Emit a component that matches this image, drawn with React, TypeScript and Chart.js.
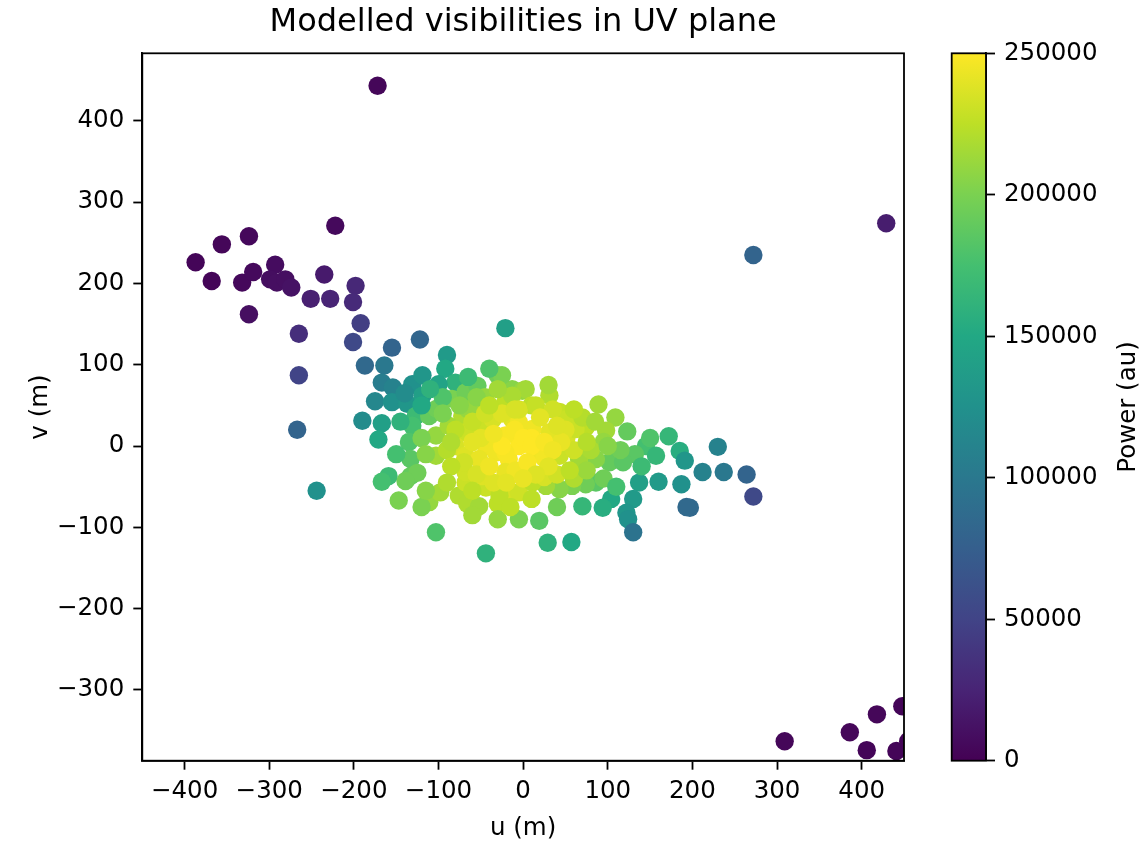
import React, { useEffect, useRef } from "react";
import { Chart, registerables } from "chart.js";

Chart.register(...registerables);

// Baseline coordinates (metres) and modelled power of each visibility
const uValues: number[] = [
  -172, -222, -324, -356, -387, -368, -332, -319, -293, -299,
  -291, -281, -274, -324, -251, -228, -235, -198, -201, -192,
  -265, -201, -265, -155, -122, -21, -267, -187, -164, 429,
  272, 264, 272, 309, 386, 418, 406, 448, 441, 455,
  -90, -167, -154, -175, -190, -167, -171, -244, -155, -137,
  -131, -119, -92, -80, -100, -119, -127, -131, -135, -133,
  -133, -125, -159, -167, -139, -147, -111, -98, -103, -44,
  -76, -66, -52, -44, -30, -30, -5, -13, -68, -103,
  -103, -111, -102, -84, -68, -54, -30, -13, -1, -52,
  -72, -88, -68, -52, -36, -21, -13, -44, -32, -80,
  -68, -52, -17, -5, -68, -48, -21, -5, -25, 3,
  31, -13, 10, 43, 51, 89, 109, 74, 98, 123,
  172, 145, 132, 157, 185, 191, 230, 212, 237, 197,
  193, 187, 160, 137, 130, 122, 124, 130, 104, 94,
  70, 57, 29, 19, 86, 74, 58, 43, 27, 11,
  -9, 102, 118, 86, 66, 43, 19, 51, 31, 11,
  -5, 62, -21, -21, -28, -95, -110, -140, -45, -65,
  -95, -80, -60, -45, -25, -5, 15, 35, 50, 70,
  85, 95, 80, 60, 45, 25, 10, -10, -25, -50,
  -70, -90, -85, -55, -35, -20, 5, 25, 40, 60,
  75, 95, 110, 115, 140, 150, -30, -55, -75, -120,
  -145, -150, -120, -60, 40, -15, 10, 30, -40, -65,
  0, 10, 25, 35, -10, 20, 5, 30, -35, -60,
  -40, 15, 55, 40, -85, -90, -115, 75, 60, -60,
  -40, -120, -115, 0, 100,
];

const vValues: number[] = [
  443, 271, 258, 248, 226, 203, 201, 214, 223, 205,
  201, 205, 195, 162, 181, 181, 211, 197, 177, 151,
  138, 128, 87, 121, 131, 145, 20, 99, 99, 274,
  235, -35, -62, -363, -352, -330, -374, -320, -375, -363,
  112, 78, 72, 55, 31, 28, 8, -55, 54, 52,
  76, 87, 95, 78, 76, 62, 37, 25, 5, -16,
  -37, -33, -37, -44, -43, -67, -69, -57, -106, -132,
  -61, -71, -74, -51, -71, -90, -90, -57, -45, -12,
  13, 37, 46, 58, 66, 74, 87, 70, 68, 50,
  37, 25, 17, 25, 33, 54, 33, 0, -8, 0,
  -12, -16, -16, 0, -32, -37, -32, -57, 87, 70,
  62, 62, 50, 42, 33, 51, 35, 23, 19, 18,
  12, 0, -10, -12, -6, -18, -1, -32, -32, -76,
  -75, -47, -44, -45, -65, -82, -90, -106, -65, -76,
  -74, -118, -119, -92, -45, -47, -49, -53, -49, -45,
  -30, -20, -20, -16, -16, -12, -8, 9, 17, 21,
  29, 21, 13, -8, -61, 60, 70, 65, 60, 45,
  40, 20, 30, 40, 40, 45, 50, 45, 20, 35,
  30, 5, -5, -5, 5, -15, 10, 20, 0, 10,
  -20, -5, 5, -35, -45, -45, -30, -38, -35, -40,
  -30, -40, -50, -5, -25, 10, 70, 60, 50, 50,
  30, -10, -75, -85, -75, -75, -65, 75, 95, 85,
  10, 0, 5, -5, 45, 35, -20, -25, 15, 5,
  50, -35, -30, 25, -25, -45, -55, 5, 45, -55,
  -25, 10, -10, -40, 0,
];

const powerValues: number[] = [
  4000, 6000, 5000, 4000, 3000, 3000, 5000, 6000, 8000, 9000,
  10000, 10000, 12000, 10000, 22000, 25000, 18000, 28000, 30000, 45000,
  33000, 55000, 50000, 80000, 82000, 140000, 80000, 85000, 100000, 20000,
  80000, 80000, 55000, 4000, 4000, 4000, 3000, 3000, 3000, 3000,
  135000, 105000, 110000, 115000, 120000, 140000, 150000, 125000, 125000, 130000,
  125000, 130000, 150000, 160000, 145000, 140000, 170000, 175000, 180000, 185000,
  190000, 195000, 170000, 175000, 195000, 200000, 210000, 215000, 180000, 160000,
  220000, 220000, 215000, 230000, 225000, 210000, 200000, 235000, 230000, 215000,
  210000, 190000, 195000, 200000, 195000, 190000, 195000, 205000, 210000, 215000,
  220000, 215000, 230000, 230000, 235000, 225000, 240000, 245000, 245000, 235000,
  238000, 242000, 248000, 250000, 232000, 238000, 242000, 232000, 200000, 215000,
  220000, 218000, 225000, 228000, 230000, 215000, 210000, 225000, 215000, 190000,
  165000, 175000, 185000, 165000, 155000, 130000, 110000, 110000, 100000, 85000,
  85000, 125000, 135000, 140000, 135000, 130000, 125000, 95000, 150000, 155000,
  165000, 150000, 160000, 185000, 185000, 195000, 200000, 205000, 215000, 225000,
  245000, 190000, 185000, 205000, 215000, 230000, 245000, 235000, 240000, 245000,
  245000, 230000, 248000, 248000, 225000, 180000, 160000, 120000, 210000, 210000,
  200000, 225000, 228000, 232000, 238000, 235000, 228000, 232000, 238000, 222000,
  215000, 210000, 218000, 232000, 242000, 246000, 250000, 248000, 250000, 240000,
  232000, 222000, 220000, 235000, 238000, 240000, 245000, 235000, 232000, 220000,
  212000, 195000, 175000, 195000, 170000, 180000, 215000, 205000, 205000, 150000,
  160000, 175000, 200000, 215000, 195000, 225000, 225000, 215000, 180000, 170000,
  250000, 250000, 248000, 245000, 235000, 240000, 248000, 240000, 245000, 240000,
  225000, 238000, 225000, 238000, 225000, 220000, 205000, 222000, 225000, 225000,
  245000, 200000, 205000, 242000, 205000,
];

const xTicks: number[] = [-400, -300, -200, -100, 0, 100, 200, 300, 400];
const yTicks: number[] = [-300, -200, -100, 0, 100, 200, 300, 400];
const powerTicks: number[] = [0, 50000, 100000, 150000, 200000, 250000];

const X_MIN = -450;
const X_MAX = 450;
const Y_MIN = -387;
const Y_MAX = 483;
const POWER_MAX = 250000;

// viridis colour map stops
const VIRIDIS: string[] = [
  "#440154", "#482475", "#414487", "#355f8d", "#2a788e", "#21918c",
  "#22a884", "#44bf70", "#7ad151", "#bddf26", "#fde725",
];

function hexToRgb(h: string): number[] {
  return [parseInt(h.slice(1, 3), 16), parseInt(h.slice(3, 5), 16), parseInt(h.slice(5, 7), 16)];
}

function viridis(t: number): string {
  const c = Math.min(1, Math.max(0, t));
  const pos = c * (VIRIDIS.length - 1);
  const i = Math.min(VIRIDIS.length - 2, Math.floor(pos));
  const f = pos - i;
  const a = hexToRgb(VIRIDIS[i]);
  const b = hexToRgb(VIRIDIS[i + 1]);
  const rgb = a.map((av, k) => Math.round(av + (b[k] - av) * f));
  return `rgb(${rgb[0]}, ${rgb[1]}, ${rgb[2]})`;
}

const FONT = "'DejaVu Sans', sans-serif";
const TICK_FONT = { family: FONT, size: 24.5 };
const AXIS_LW = 1.8;

const minusFmt = (v: number | string) => {
  const n = Number(v);
  return n < 0 ? "\u2212" + Math.abs(n) : String(n);
};

const framePlugin = {
  id: "frame",
  afterDraw(chart: any) {
    const { ctx, chartArea } = chart;
    ctx.save();
    ctx.strokeStyle = "#000";
    ctx.lineWidth = AXIS_LW;
    ctx.strokeRect(chartArea.left, chartArea.top, chartArea.right - chartArea.left, chartArea.bottom - chartArea.top);
    ctx.restore();
  },
};

const colorbarLabelPlugin = {
  id: "colorbarLabel",
  afterDraw(chart: any) {
    const { ctx, chartArea } = chart;
    ctx.save();
    ctx.translate(1129, (chartArea.top + chartArea.bottom) / 2);
    ctx.rotate(-Math.PI / 2);
    ctx.font = `24.5px ${FONT}`;
    ctx.fillStyle = "#000";
    ctx.textAlign = "center";
    ctx.textBaseline = "middle";
    ctx.fillText("Power (au)", 0, 0);
    ctx.restore();
  },
};

const axisGrid = {
  display: true,
  drawOnChartArea: false,
  drawTicks: true,
  tickLength: 9,
  color: "#000",
  tickWidth: AXIS_LW,
};

export default function App() {
  const mainRef = useRef<HTMLCanvasElement | null>(null);
  const barRef = useRef<HTMLCanvasElement | null>(null);

  useEffect(() => {
    Chart.defaults.font.family = FONT;
    Chart.defaults.color = "#000";

    const points = uValues.map((u, i) => ({ x: u, y: vValues[i] }));
    const colors = powerValues.map((p) => viridis(p / POWER_MAX));

    const main = new Chart(mainRef.current as HTMLCanvasElement, {
      type: "scatter",
      data: {
        datasets: [
          {
            data: points,
            backgroundColor: colors,
            pointBackgroundColor: colors,
            pointBorderWidth: 0,
            borderWidth: 0,
            pointRadius: 9.2,
            pointHoverRadius: 9.2,
            clip: 0,
          } as any,
        ],
      },
      options: {
        responsive: false,
        animation: false,
        devicePixelRatio: 1,
        events: [],
        layout: { padding: { left: 26, right: 239, top: 0, bottom: 0 } },
        plugins: {
          legend: { display: false },
          tooltip: { enabled: false },
          title: {
            display: true,
            fullSize: false,
            text: "Modelled visibilities in UV plane",
            color: "#000",
            font: { family: FONT, size: 32, weight: "normal" },
            padding: { top: 3, bottom: 11.9 },
          },
        },
        scales: {
          x: {
            type: "linear",
            min: X_MIN,
            max: X_MAX,
            afterBuildTicks: (s: any) => {
              s.ticks = xTicks.map((value) => ({ value }));
            },
            afterFit: (s: any) => {
              s.height = 84.3;
            },
            grid: axisGrid,
            border: { display: true, color: "#000", width: AXIS_LW },
            ticks: { font: TICK_FONT, color: "#000", padding: 7, maxRotation: 0, callback: minusFmt },
            title: {
              display: true,
              text: "u (m)",
              color: "#000",
              font: TICK_FONT,
              padding: { top: 0, bottom: 1.3 },
            },
          },
          y: {
            type: "linear",
            min: Y_MIN,
            max: Y_MAX,
            afterBuildTicks: (s: any) => {
              s.ticks = yTicks.map((value) => ({ value }));
            },
            afterFit: (s: any) => {
              s.width = 116.3;
            },
            grid: axisGrid,
            border: { display: true, color: "#000", width: AXIS_LW },
            ticks: { font: TICK_FONT, color: "#000", padding: 9, callback: minusFmt },
            title: {
              display: true,
              text: "v (m)",
              color: "#000",
              font: TICK_FONT,
              padding: { top: 0, bottom: 0 },
            },
          },
        },
      } as any,
      plugins: [framePlugin],
    });

    const colorbar = new Chart(barRef.current as HTMLCanvasElement, {
      type: "bar",
      data: {
        labels: ["power"],
        datasets: [
          {
            data: [[0, POWER_MAX]] as any,
            borderWidth: 0,
            barPercentage: 1,
            categoryPercentage: 1,
            backgroundColor: (ctx: any) => {
              const { chart } = ctx;
              const area = chart.chartArea;
              if (!area) return VIRIDIS[5];
              const g = chart.ctx.createLinearGradient(0, area.bottom, 0, area.top);
              VIRIDIS.forEach((c, i) => g.addColorStop(i / (VIRIDIS.length - 1), c));
              return g;
            },
          },
        ],
      },
      options: {
        responsive: false,
        animation: false,
        devicePixelRatio: 1,
        events: [],
        layout: { padding: { left: 951.7, right: 0, top: 53.3, bottom: 84.3 } },
        plugins: { legend: { display: false }, tooltip: { enabled: false } },
        scales: {
          x: { display: false },
          y: {
            type: "linear",
            position: "right",
            min: 0,
            max: POWER_MAX,
            afterBuildTicks: (s: any) => {
              s.ticks = powerTicks.map((value) => ({ value }));
            },
            afterFit: (s: any) => {
              s.width = 157;
            },
            grid: axisGrid,
            border: { display: true, color: "#000", width: AXIS_LW },
            ticks: { font: TICK_FONT, color: "#000", padding: 9, callback: (v: any) => String(v) },
          },
        },
      } as any,
      plugins: [framePlugin, colorbarLabelPlugin],
    });

    return () => {
      main.destroy();
      colorbar.destroy();
    };
  }, []);

  return (
    <div style={{ position: "fixed", left: 0, top: 0, width: 1143, height: 845, background: "#fff" }}>
      <canvas ref={mainRef} width={1143} height={845} style={{ position: "absolute", left: 0, top: 0 }} />
      <canvas ref={barRef} width={1143} height={845} style={{ position: "absolute", left: 0, top: 0 }} />
    </div>
  );
}
